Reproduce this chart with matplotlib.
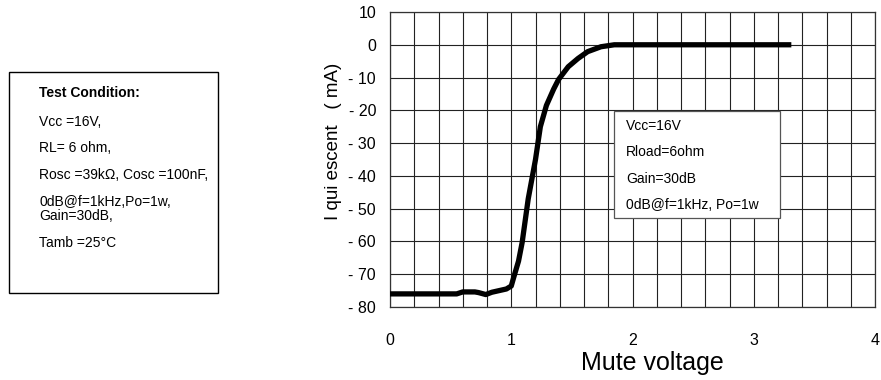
import matplotlib
matplotlib.use('Agg')
import matplotlib.pyplot as plt
from matplotlib.patches import Rectangle

plt.rcParams['font.family'] = ['Liberation Sans', 'DejaVu Sans']

# curve
volt = [0.0, 0.3, 0.55, 0.6, 0.7, 0.73, 0.79, 0.84, 0.9, 0.96, 1.0, 1.02,
        1.06, 1.09, 1.14, 1.2, 1.24, 1.29, 1.35, 1.39, 1.47, 1.55, 1.63,
        1.74, 1.85, 2.2, 2.8, 3.31]
iq = [-76, -76, -76, -75.4, -75.4, -75.6, -76.2, -75.5, -75.0, -74.5, -73.6, -71,
      -66, -60.3, -47, -35, -25, -18.5, -13.5, -10.6, -6.7, -4.2, -2.1,
      -0.6, 0, 0, 0, 0]

yticks = [10, 0, -10, -20, -30, -40, -50, -60, -70, -80]
ytick_labels = ['10', '0', '- 10', '- 20', '- 30', '- 40', '- 50', '- 60', '- 70', '- 80']
xticks = [0, 1, 2, 3, 4]

cond_title = 'Test Condition:'
cond_lines = ['Vcc =16V,', 'RL= 6 ohm,', 'Rosc =39kΩ, Cosc =100nF,',
              '0dB@f=1kHz,Po=1w,\nGain=30dB,', 'Tamb =25°C']
legend_lines = ['Vcc=16V', 'Rload=6ohm', 'Gain=30dB', '0dB@f=1kHz, Po=1w']

fig = plt.figure(figsize=(8.81, 3.80), dpi=100)
ax = fig.add_axes([390/881, 1-307/380, 485/881, 295/380])

ax.plot(volt, iq, color='black', lw=3.8, solid_capstyle='butt', zorder=3)

ax.set_xlim(0, 4)
ax.set_ylim(-80, 10)
ax.set_xticks(xticks)
ax.set_xticks([i*0.2 for i in range(21)], minor=True)
ax.set_yticks(yticks)
ax.set_yticklabels(ytick_labels)
ax.tick_params(length=0, labelsize=11.5, pad=10)
ax.tick_params(axis='x', pad=19)
ax.tick_params(which='minor', length=0)
ax.grid(True, which='both', color='#222222', lw=0.8)
for s in ax.spines.values():
    s.set_color('#333333')
    s.set_linewidth(0.9)

ax.set_xlabel('Mute voltage', fontsize=18)
ax.xaxis.set_label_coords(0.54, -0.15)
ax.set_ylabel('I qui escent   ( mA)', fontsize=13.5)
ax.yaxis.set_label_coords(-0.1, 0.56)

# legend box inside the plot
ax.add_patch(Rectangle((614/881, 1-218/380), 166/881, 107/380, transform=fig.transFigure,
                       facecolor='white', edgecolor='#555555', lw=0.9, zorder=4))
for i, t in enumerate(legend_lines):
    fig.text(626/881, 1-(126 + i*26.3)/380, t, fontsize=10, va='center', zorder=5)

# test condition box
fig.patches.append(Rectangle((9/881, 1-293/380), 209/881, 221/380, transform=fig.transFigure,
                             facecolor='white', edgecolor='black', lw=1.0))
fig.text(39/881, 1-93/380, cond_title, fontsize=10, fontweight='bold', va='center')
ypos = [122, 148, 175, 209, 243]
for y, t in zip(ypos, cond_lines):
    fig.text(39/881, 1-y/380, t, fontsize=10, va='center', linespacing=1.05)

fig.savefig('out.png', dpi=100)
